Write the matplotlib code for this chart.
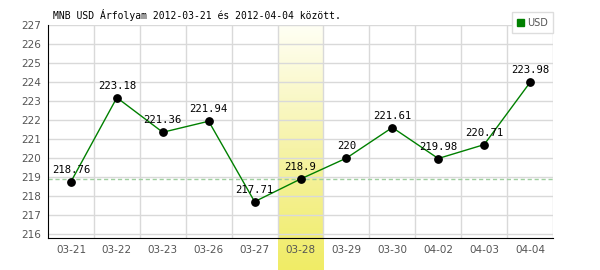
import numpy as np
import matplotlib.pyplot as plt
from matplotlib.colors import LinearSegmentedColormap

dates = ['03-21', '03-22', '03-23', '03-26', '03-27', '03-28',
         '03-29', '03-30', '04-02', '04-03', '04-04']
usd = [218.76, 223.18, 221.36, 221.94, 217.71, 218.9,
       220, 221.61, 219.98, 220.71, 223.98]
labels = ['218.76', '223.18', '221.36', '221.94', '217.71', '218.9',
          '220', '221.61', '219.98', '220.71', '223.98']
highlight = 5
yticks = list(range(216, 228))

ymin, ymax = 215.8, 227.0

fig = plt.figure(figsize=(6, 2.7), dpi=100)
ax = fig.add_axes([48 / 600, 32 / 270, 505 / 600, 213 / 270])

x = np.arange(len(dates))

# highlighted day: yellow gradient band running down past the axis
grad = LinearSegmentedColormap.from_list('hl', ['#fffff4', '#f6f3a8', '#f0ec66'])
px = (ymax - ymin) / 213.0
ybot = ymin - 32 * px
im = ax.imshow(np.linspace(0, 1, 100).reshape(-1, 1), cmap=grad, aspect='auto',
               extent=(highlight - 0.5, highlight + 0.5, ybot, ymax),
               origin='upper', zorder=0, clip_on=False)

ax.set_xlim(-0.5, len(dates) - 0.5)
ax.set_ylim(ymin, ymax)

# grid
for v in yticks:
    ax.axhline(v, color='#d9d9d9', lw=1, zorder=1)
for b in np.arange(0.5, len(dates), 1):
    ax.axvline(b, color='#d9d9d9', lw=1, zorder=1)

ax.axhline(usd[highlight], color='#9fcf9f', lw=1, ls=(0, (3, 2)), zorder=2)

ax.plot(x, usd, color='#008000', lw=1, zorder=3, label='USD')
ax.scatter(x, usd, s=28, color='black', zorder=4)

for xi, yi, t in zip(x, usd, labels):
    ax.annotate(t, (xi, yi), xytext=(0, 5), textcoords='offset points',
                ha='center', va='bottom', fontsize=7.7, family='DejaVu Sans Mono',
                color='black', zorder=5)

ax.set_xticks(x)
ax.set_xticklabels(dates)
ax.set_yticks(yticks)
ax.tick_params(axis='both', length=0, colors='#555555', labelsize=7.5, pad=5)
for s in ['top', 'right']:
    ax.spines[s].set_visible(False)
ax.spines['left'].set_color('black')
ax.spines['bottom'].set_color('black')
ax.spines['left'].set_zorder(6)
ax.spines['bottom'].set_zorder(6)

fig.text(53 / 600, 1 - 15 / 270, 'MNB USD Árfolyam 2012-03-21 és 2012-04-04 között.',
         family='DejaVu Sans Mono', fontsize=7, va='center', ha='left')

# legend box
leg = ax.legend(handles=[plt.Rectangle((0, 0), 1, 1, color='#008000')], labels=['USD'],
                loc='lower right', bbox_to_anchor=(553 / 600, 1 - 33 / 270),
                bbox_transform=fig.transFigure, frameon=True, fancybox=False,
                fontsize=7, handlelength=0.7, handleheight=0.7, handletextpad=0.3,
                borderpad=0.55, borderaxespad=0, labelcolor='#555555')
leg.get_frame().set_edgecolor('#dddddd')
leg.get_frame().set_linewidth(1)
leg.get_frame().set_alpha(1)

plt.savefig('out.png', dpi=100)
